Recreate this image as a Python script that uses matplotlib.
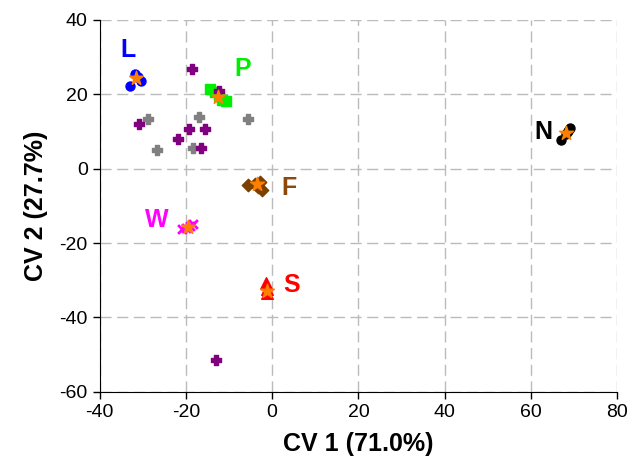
import matplotlib
matplotlib.use("Agg")
import matplotlib.pyplot as plt

plt.rcParams['font.family'] = ['Liberation Sans', 'DejaVu Sans']
plt.rcParams['axes.unicode_minus'] = False

# group L (blue circles)
l_x = [-31.8, -33.0, -30.3, -31.2]
l_y = [25.5, 22.3, 23.6, 24.6]
# group P (green squares)
p_x = [-14.5, -13.2, -12.3, -11.6, -10.6]
p_y = [21.4, 20.6, 19.5, 18.4, 18.1]
# group N (black circles)
n_x = [69.1, 67.0, 68.1, 68.6]
n_y = [11.0, 7.8, 9.3, 10.2]
# group F (brown diamonds)
f_x = [-5.5, -2.8, -2.4, -4.0, -3.2]
f_y = [-4.4, -3.5, -5.7, -4.0, -4.8]
# group W (magenta crosses)
w_x = [-21.0, -18.3, -20.0, -19.0]
w_y = [-16.3, -14.9, -16.0, -15.3]
# group S (red triangles)
s_x = [-1.4, -1.3, -1.2]
s_y = [-30.8, -32.3, -33.3]
# unassigned samples
purple_x = [-18.5, -12.3, -30.9, -19.2, -15.6, -21.8, -16.5, -13.0]
purple_y = [26.7, 20.9, 12.0, 10.7, 10.7, 7.9, 5.6, -51.3]
gray_x = [-28.8, -16.9, -5.7, -26.7, -18.3]
gray_y = [13.3, 14.0, 13.5, 5.0, 5.5]
# group centroids
cent_x = [-31.5, -12.5, 68.0, -3.6, -19.5, -1.2]
cent_y = [24.3, 19.3, 9.5, -4.2, -15.8, -33.0]
# labels
lab_text = ['L', 'P', 'N', 'F', 'W', 'S']
lab_x = [-33.4, -6.8, 62.9, 3.8, -26.7, 4.6]
lab_y = [31.9, 26.7, 10.0, -5.3, -13.8, -31.3]
lab_col = ['#0000FF', '#00EE00', '#000000', '#8B4A0C', '#FF00FF', '#FF0000']

fig = plt.figure(figsize=(6.3, 4.75), dpi=100)
ax = fig.add_axes([0.158, 0.175, 0.822, 0.783])

ax.scatter(gray_x, gray_y, marker='P', s=55, color='#808080', zorder=3)
ax.scatter(l_x, l_y, marker='o', s=42, color='#0000FF', zorder=3)
ax.scatter(p_x, p_y, marker='s', s=45, color='#00EE00', zorder=3)
ax.scatter(purple_x, purple_y, marker='P', s=55, color='#800080', zorder=3.5)
ax.scatter(n_x, n_y, marker='o', s=42, color='#000000', zorder=3)
ax.scatter(f_x, f_y, marker='D', s=40, color='#7B3F00', zorder=3)
ax.scatter(w_x, w_y, marker='x', s=40, color='#FF00FF', linewidths=2, zorder=3)
ax.scatter(s_x, s_y, marker='^', s=70, color='#FF0000', zorder=3)
ax.scatter(cent_x, cent_y, marker='*', s=110, color='#FF8000', zorder=4)

for t, x, y, c in zip(lab_text, lab_x, lab_y, lab_col):
    ax.text(x, y, t, color=c, fontsize=18, fontweight='bold', ha='center', va='center')

ax.set_xlim(-40, 80)
ax.set_ylim(-60, 40)
ax.set_xticks(range(-40, 81, 20))
ax.set_yticks(range(-60, 41, 20))
ax.tick_params(labelsize=14, direction='out', length=5, width=1)
ax.grid(True, color='#BBBBBB', linestyle=(0, (8, 4)), linewidth=1)
ax.set_axisbelow(True)
for side in ['top', 'right']:
    ax.spines[side].set_visible(False)

ax.set_xlabel('CV 1 (71.0%)', fontsize=18, fontweight='bold', labelpad=8)
ax.set_ylabel('CV 2 (27.7%)', fontsize=18, fontweight='bold', labelpad=8)

fig.savefig('out.png', dpi=100)
